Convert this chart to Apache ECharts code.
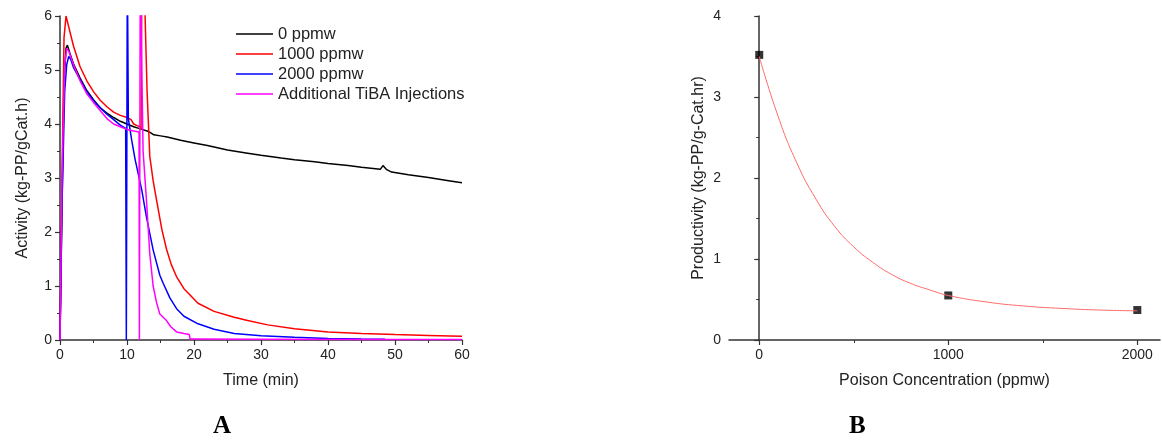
<!DOCTYPE html>
<html>
<head>
<meta charset="utf-8">
<script src="https://cdn.jsdelivr.net/npm/echarts@6/dist/echarts.min.js"></script>
<style>
html, body { margin: 0; padding: 0; background: #fff; }
#chart { width: 1162px; height: 446px; }
</style>
</head>
<body>
<div id="chart"></div>
<script>
// panel A: activity vs time, [min, kg-PP/gCat.h]
var seriesNames = ['0 ppmw', '1000 ppmw', '2000 ppmw', 'Additional TiBA Injections'];
var act0 = [[0,0],[0.3,2.5],[0.6,4.8],[0.9,5.4],[1.1,5.46],[1.5,5.3],[2,5.12],[3,4.85],[4,4.62],[5,4.45],[6,4.3],[7,4.2],[8,4.12],[9,4.05],[10,4.0],[11,3.95],[12,3.91],[13,3.87],[13.5,3.84],[14,3.8],[15,3.78],[16,3.76],[18,3.7],[20,3.65],[22,3.6],[25,3.52],[28,3.46],[30,3.42],[33,3.37],[35,3.34],[38,3.3],[40,3.27],[43,3.23],[45,3.2],[47.8,3.16],[48.2,3.23],[48.7,3.16],[49.5,3.11],[52,3.06],[55,3.01],[58,2.95],[60,2.91]];
var act1000 = [[0,0],[0.3,3],[0.6,5.6],[0.9,6.0],[1.2,5.85],[2,5.45],[3,5.06],[4,4.8],[5,4.6],[6,4.44],[7,4.32],[8,4.22],[9,4.16],[10,4.12],[10.6,4.08],[11,4.0],[11.5,3.97],[12,3.95],[12.1,3.9],[12.3,8.5],[12.7,6.0],[13.0,4.6],[13.4,3.4],[13.9,2.95],[14.4,2.6],[15.2,2.05],[15.9,1.68],[16.6,1.4],[17.4,1.17],[18.5,0.95],[20.6,0.68],[23,0.53],[26,0.42],[28,0.36],[31,0.28],[35,0.21],[40,0.15],[45,0.12],[50,0.1],[55,0.085],[60,0.07]];
var act2000 = [[0,0],[0.3,2.5],[0.7,4.6],[1.0,5.1],[1.3,5.25],[1.6,5.2],[2,5.05],[3,4.82],[4,4.6],[5,4.43],[6,4.3],[7,4.18],[8,4.08],[9,3.98],[9.8,3.92],[9.9,0],[10.0,0],[10.05,7],[10.2,4.1],[10.7,3.7],[11.2,3.35],[12.2,2.78],[12.9,2.28],[13.9,1.67],[14.9,1.2],[15.4,1.05],[16.4,0.78],[17.4,0.58],[18.5,0.44],[20.6,0.3],[23,0.2],[26,0.12],[30,0.08],[35,0.05],[40,0.03],[45,0.02],[48.5,0.015]];
var actTiba = [[0,0],[0.3,3],[0.7,5.1],[1.0,5.4],[1.3,5.35],[2,5.1],[3,4.8],[4,4.56],[5,4.4],[6,4.25],[7,4.1],[8,4.0],[9,3.95],[10,3.9],[11,3.87],[11.8,3.85],[11.85,0],[11.95,0],[12.0,8],[12.15,5.5],[12.4,3.5],[12.9,2.6],[13.4,1.6],[13.9,1.0],[14.4,0.7],[14.9,0.48],[15.9,0.36],[16.5,0.25],[17.4,0.15],[18.5,0.12],[19.3,0.1],[19.4,0.02],[20,0.02],[30,0.015],[45,0.01],[60,0.01]];

// panel B: productivity vs poison concentration
var poisonPts = [[0,3.52],[1000,0.55],[2000,0.37]];
var poisonFit = [[0,3.5],[100,2.76],[200,2.18],[300,1.74],[400,1.4],[500,1.15],[600,0.96],[700,0.81],[800,0.7],[900,0.62],[1000,0.55],[1200,0.47],[1400,0.42],[1600,0.39],[1800,0.37],[2000,0.36]];
var poisonTicks = [0, 1000, 2000];
var poisonMinor = [500, 1500];

var chart = echarts.init(document.getElementById('chart'));

var axisLine = { lineStyle: { color: '#333', width: 1.5 } };
var tickStyle = { length: 5, lineStyle: { color: '#333', width: 1.2 } };
var minorStyle = { show: true, splitNumber: 2, length: 3, lineStyle: { color: '#333', width: 1 } };
var labelStyle = { color: '#222', fontSize: 14, fontFamily: 'Liberation Sans' };
var nameStyle = { color: '#222', fontSize: 16, fontFamily: 'Liberation Sans' };

function lineSeries(name, data, color) {
    return {
        name: name, type: 'line', data: data,
        xAxisIndex: 0, yAxisIndex: 0,
        symbol: 'none', smooth: false, clip: true,
        lineStyle: { color: color, width: 1.5 },
        itemStyle: { color: color }
    };
}

var option = {
    animation: false,
    grid: [
        { left: 60, right: 700, top: 16, bottom: 106 },
        { left: 729, right: 2, top: 16, bottom: 106 }
    ],
    legend: {
        data: seriesNames,
        orient: 'vertical',
        left: 236, top: 24, padding: 0,
        icon: 'path://M0,0 L37,0 L37,1.6 L0,1.6 Z',
        itemWidth: 37, itemHeight: 14, itemGap: 0,
        textStyle: { color: '#222', fontSize: 16.5, lineHeight: 20, fontFamily: 'Liberation Sans' }
    },
    xAxis: [
        {
            gridIndex: 0, type: 'value', min: 0, max: 60, interval: 10,
            name: 'Time (min)', nameLocation: 'middle', nameGap: 33, nameTextStyle: nameStyle,
            axisLine: axisLine, axisTick: tickStyle, minorTick: minorStyle,
            axisLabel: labelStyle, splitLine: { show: false }
        },
        {
            gridIndex: 1, type: 'value', min: -160, max: 2120, position: 'bottom',
            name: 'Poison Concentration (ppmw)', nameLocation: 'middle', nameGap: 33, nameTextStyle: nameStyle,
            axisLine: axisLine,
            axisTick: Object.assign({ customValues: poisonTicks }, tickStyle),
            axisLabel: Object.assign({ customValues: poisonTicks, formatter: function (v) { return String(v); } }, labelStyle),
            splitLine: { show: false }
        },
        {
            gridIndex: 1, type: 'value', min: -160, max: 2120, position: 'bottom', offset: 0,
            axisLine: { show: false },
            axisTick: { customValues: poisonMinor, length: 3, lineStyle: { color: '#333', width: 1 } },
            axisLabel: { show: false },
            splitLine: { show: false }
        }
    ],
    yAxis: [
        {
            gridIndex: 0, type: 'value', min: 0, max: 6, interval: 1,
            name: 'Activity (kg-PP/gCat.h)', nameLocation: 'middle', nameGap: 29, nameTextStyle: nameStyle,
            axisLine: Object.assign({ show: true }, axisLine), axisTick: Object.assign({ show: true }, tickStyle),
            minorTick: minorStyle, axisLabel: labelStyle, splitLine: { show: false }
        },
        {
            gridIndex: 1, type: 'value', min: 0, max: 4, interval: 1,
            name: 'Productivity (kg-PP/g-Cat.hr)', nameLocation: 'middle', nameGap: 22, nameTextStyle: nameStyle,
            axisLine: Object.assign({ show: true }, axisLine), axisTick: Object.assign({ show: true }, tickStyle),
            minorTick: minorStyle, axisLabel: labelStyle, splitLine: { show: false }
        }
    ],
    series: [
        lineSeries(seriesNames[0], act0, '#000000'),
        lineSeries(seriesNames[1], act1000, '#ff0000'),
        lineSeries(seriesNames[2], act2000, '#0000ff'),
        lineSeries(seriesNames[3], actTiba, '#ff00ff'),
        {
            name: 'fit', type: 'line', data: poisonFit,
            xAxisIndex: 1, yAxisIndex: 1,
            symbol: 'none', smooth: true,
            lineStyle: { color: '#ff6a6a', width: 1 }
        },
        {
            name: 'points', type: 'scatter', data: poisonPts,
            xAxisIndex: 1, yAxisIndex: 1,
            symbol: 'rect', symbolSize: 8,
            itemStyle: { color: '#000' }
        }
    ],
    graphic: [
        { type: 'text', left: 213, top: 414, style: { text: 'A', fontSize: 25, fontWeight: 'bold', fontFamily: 'Liberation Serif', fill: '#000' } },
        { type: 'text', left: 849, top: 414, style: { text: 'B', fontSize: 25, fontWeight: 'bold', fontFamily: 'Liberation Serif', fill: '#000' } }
    ]
};
chart.setOption(option);
</script>
</body>
</html>
